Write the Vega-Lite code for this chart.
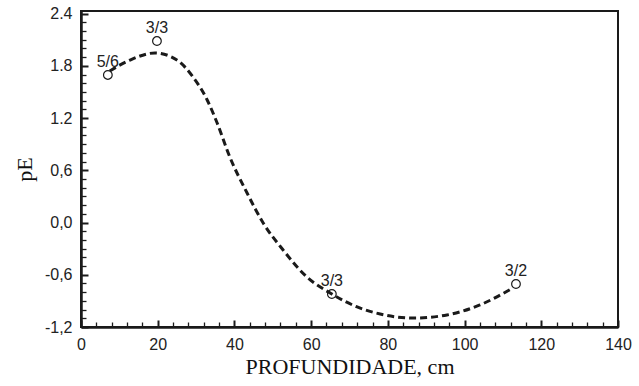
{
  "$schema": "https://vega.github.io/schema/vega-lite/v6.json",
  "width": 537,
  "height": 316,
  "autosize": {"type": "none"},
  "padding": {"left": 81, "top": 11, "right": 21, "bottom": 59},
  "background": "white",
  "config": {
    "view": {"stroke": "#1a1a1a", "strokeWidth": 2},
    "axis": {
      "grid": false,
      "labelFont": "Liberation Sans",
      "labelFontSize": 16,
      "labelColor": "#222222",
      "titleFont": "Liberation Serif",
      "titleFontSize": 22,
      "titleFontWeight": "normal",
      "titleColor": "#111111",
      "domainColor": "#1a1a1a",
      "tickColor": "#1a1a1a"
    }
  },
  "datasets": {
    "curve": [
      {"depth": 7.5, "pE": 1.741},
      {"depth": 12.8, "pE": 1.867},
      {"depth": 19.3, "pE": 1.948},
      {"depth": 25.0, "pE": 1.867},
      {"depth": 29.2, "pE": 1.672},
      {"depth": 32.9, "pE": 1.408},
      {"depth": 35.5, "pE": 1.143},
      {"depth": 38.8, "pE": 0.753},
      {"depth": 43.3, "pE": 0.339},
      {"depth": 47.5, "pE": -0.005},
      {"depth": 52.7, "pE": -0.316},
      {"depth": 58.9, "pE": -0.626},
      {"depth": 65.4, "pE": -0.821},
      {"depth": 72.0, "pE": -0.97},
      {"depth": 78.0, "pE": -1.051},
      {"depth": 86.6, "pE": -1.097},
      {"depth": 95.4, "pE": -1.062},
      {"depth": 104.0, "pE": -0.947},
      {"depth": 112.6, "pE": -0.752}
    ],
    "points": [
      {"depth": 7.0, "pE": 1.695, "label": "5/6"},
      {"depth": 19.8, "pE": 2.085, "label": "3/3"},
      {"depth": 65.4, "pE": -0.821, "label": "3/3"},
      {"depth": 113.4, "pE": -0.706, "label": "3/2"}
    ]
  },
  "layer": [
    {
      "data": {"name": "curve"},
      "mark": {"type": "line", "interpolate": "monotone", "strokeDash": [7, 4], "strokeWidth": 3, "color": "#1a1a1a", "clip": true},
      "encoding": {
        "x": {
          "field": "depth", "type": "quantitative",
          "scale": {"domain": [0, 140], "nice": false, "zero": false},
          "axis": {
            "values": [0, 20, 40, 60, 80, 100, 120, 140],
            "title": "PROFUNDIDADE, cm",
            "domainWidth": 2.5,
            "ticks": false,
            "labelPadding": 9,
            "labelFlush": false,
            "titlePadding": 4
          }
        },
        "y": {
          "field": "pE", "type": "quantitative",
          "scale": {"domain": [-1.2, 2.43], "nice": false, "zero": false},
          "axis": {
            "values": [-1.2, -0.6, 0, 0.6, 1.2, 1.8, 2.4],
            "title": "pE",
            "labelExpr": "datum.value >= 1 ? format(datum.value, '.1f') : (datum.value < 0 ? '-' : '') + replace(format(abs(datum.value), '.1f'), '.', ',')",
            "domainWidth": 2.5,
            "ticks": false,
            "labelPadding": 9,
            "labelFlush": false,
            "titlePadding": 8
          }
        }
      }
    },
    {
      "data": {"name": "points"},
      "mark": {"type": "point", "shape": "circle", "size": 75, "filled": false, "stroke": "#1a1a1a", "strokeWidth": 1.2, "opacity": 1},
      "encoding": {
        "x": {
          "field": "depth", "type": "quantitative",
          "axis": {
            "orient": "top", "offset": -316, "zindex": 2,
            "values": [4, 8, 12, 16, 24, 28, 32, 36, 44, 48, 52, 56, 64, 68, 72, 76, 84, 88, 92, 96, 104, 108, 112, 116, 124, 128, 132, 136],
            "labels": false, "domain": false, "title": null,
            "ticks": true, "tickSize": 5, "tickWidth": 1.3
          }
        },
        "y": {
          "field": "pE", "type": "quantitative",
          "axis": {
            "orient": "right", "offset": -537, "zindex": 2,
            "values": [-1.1, -1.0, -0.9, -0.8, -0.7, -0.5, -0.4, -0.3, -0.2, -0.1, 0.1, 0.2, 0.3, 0.4, 0.5, 0.7, 0.8, 0.9, 1.0, 1.1, 1.3, 1.4, 1.5, 1.6, 1.7, 1.9, 2.0, 2.1, 2.2, 2.3],
            "labels": false, "domain": false, "title": null,
            "ticks": true, "tickSize": 5, "tickWidth": 1.3
          }
        }
      }
    },
    {
      "data": {"name": "points"},
      "mark": {"type": "text", "dy": -13, "fontSize": 16, "font": "Liberation Sans", "color": "#222222"},
      "encoding": {
        "x": {
          "field": "depth", "type": "quantitative",
          "axis": {
            "orient": "top", "offset": -316, "zindex": 2,
            "values": [0, 20, 40, 60, 80, 100, 120, 140],
            "labels": false, "domain": false, "title": null,
            "ticks": true, "tickSize": 7, "tickWidth": 2
          }
        },
        "y": {
          "field": "pE", "type": "quantitative",
          "axis": {
            "orient": "right", "offset": -537, "zindex": 2,
            "values": [-1.2, -0.6, 0, 0.6, 1.2, 1.8, 2.4],
            "labels": false, "domain": false, "title": null,
            "ticks": true, "tickSize": 7, "tickWidth": 2
          }
        },
        "text": {"field": "label"}
      }
    }
  ],
  "resolve": {"axis": {"x": "independent", "y": "independent"}}
}
